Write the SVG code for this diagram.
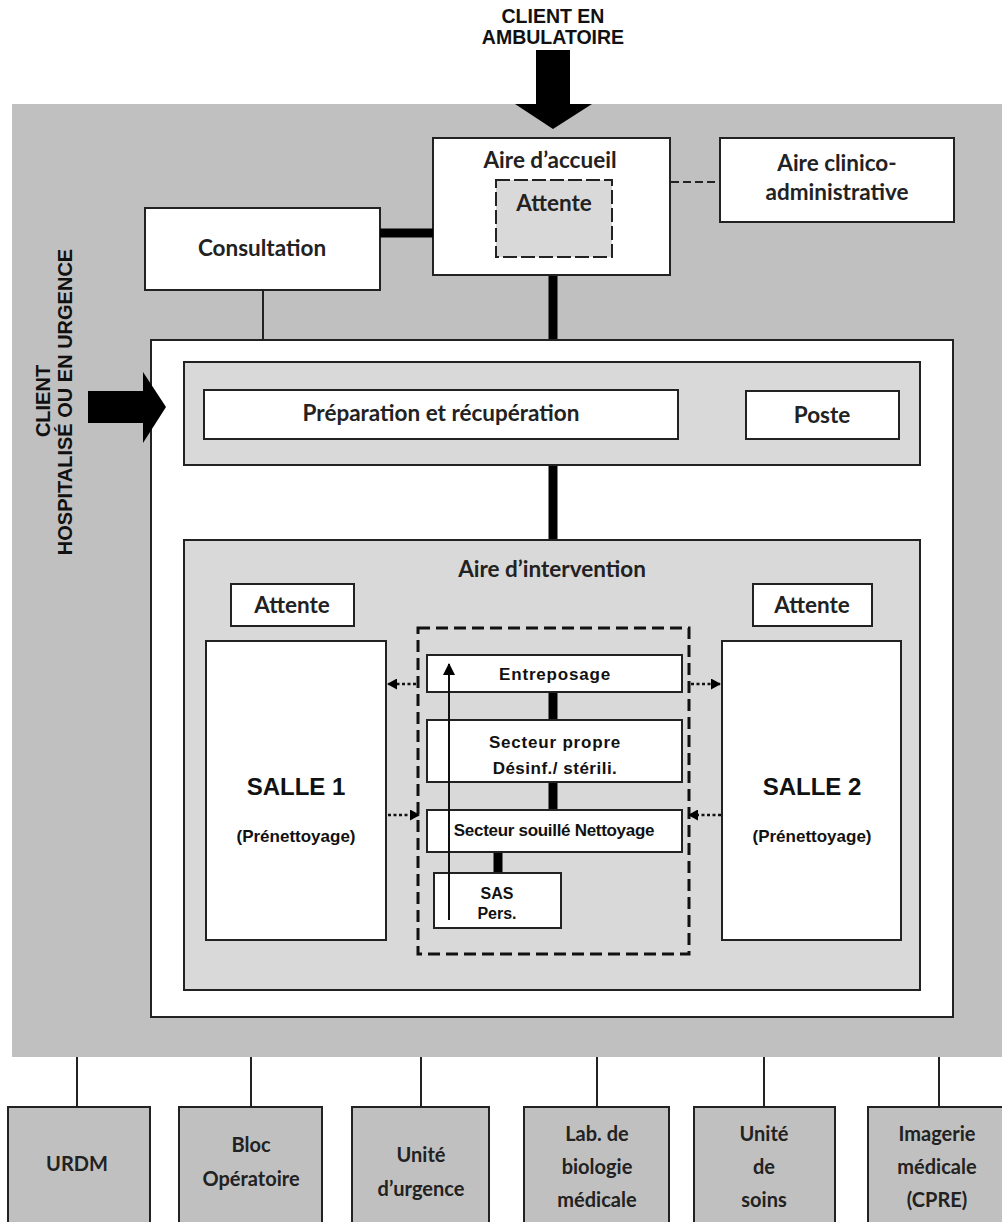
<svg xmlns="http://www.w3.org/2000/svg" width="1002" height="1222" viewBox="0 0 1002 1222">
<style>
.box{fill:#fff;stroke:#222;stroke-width:2}
.gbox{fill:#d9d9d9;stroke:#222;stroke-width:2}
.bbox{fill:#c0c0c0;stroke:#222;stroke-width:2}
.c{font-family:Lato,"Liberation Sans",sans-serif;font-weight:bold;font-size:22.5px;fill:#222;text-anchor:middle}
.cb{font-family:Lato,"Liberation Sans",sans-serif;font-weight:bold;font-size:20px;fill:#222;text-anchor:middle}
.a{font-family:"Liberation Sans",Arial,sans-serif;font-weight:bold;fill:#111;text-anchor:middle}
.thick{stroke:#000;stroke-width:9}
.thin{stroke:#222;stroke-width:2}
.dot{stroke:#111;stroke-width:2.5;stroke-dasharray:3,2.5}
</style>
<defs>
<marker id="ah" markerWidth="10" markerHeight="11" refX="9" refY="5.5" orient="auto" markerUnits="userSpaceOnUse">
<path d="M0,0 L10,5.5 L0,11 Z" fill="#000"/>
</marker>
<marker id="ah2" markerWidth="12" markerHeight="12" refX="11" refY="6" orient="auto" markerUnits="userSpaceOnUse">
<path d="M0,0 L12,6 L0,12 Z" fill="#000"/>
</marker>
</defs>
<rect width="1002" height="1222" fill="#fff"/>
<rect id="bg" x="12" y="104" width="990" height="953" fill="#c0c0c0"/>

<g id="labels">
<text class="a" font-size="19.5" x="553" y="23">CLIENT EN</text>
<text class="a" font-size="19.5" x="553" y="44">AMBULATOIRE</text>
<text class="a" font-size="20" transform="translate(50,401) rotate(-90)">CLIENT</text>
<text class="a" font-size="20" transform="translate(72,402) rotate(-90)">HOSPITALISÉ OU EN URGENCE</text>
</g>

<g id="accueil">
<rect class="box" x="433" y="138" width="237" height="137"/>
<text class="c" x="550" y="168">Aire d’accueil</text>
<rect x="496" y="180" width="116" height="77" fill="#d9d9d9" stroke="#222" stroke-width="2" stroke-dasharray="14,4"/>
<text class="c" x="554" y="211">Attente</text>
</g>
<g id="clinico">
<rect class="box" x="720" y="138" width="234" height="84"/>
<text class="c" x="837" y="171">Aire clinico-</text>
<text class="c" x="837" y="200">administrative</text>
</g>
<g id="consultation">
<rect class="box" x="145" y="208" width="235" height="82"/>
<text class="c" x="262" y="256">Consultation</text>
</g>

<g id="main">
<rect class="box" x="151" y="340" width="802" height="677"/>
</g>
<g id="prep-area">
<rect class="gbox" x="184" y="362" width="736" height="103"/>
</g>
<g id="preparation">
<rect class="box" x="204" y="390" width="474" height="49"/>
<text class="c" x="441" y="421">Préparation et récupération</text>
</g>
<g id="poste">
<rect class="box" x="746" y="391" width="153" height="48"/>
<text class="c" x="822" y="423">Poste</text>
</g>

<g id="intervention">
<rect class="gbox" x="184" y="540" width="736" height="450"/>
<text class="c" x="552" y="577">Aire d’intervention</text>
</g>
<g id="attente1">
<rect class="box" x="231" y="584" width="123" height="42"/>
<text class="c" x="292" y="613">Attente</text>
</g>
<g id="attente2">
<rect class="box" x="753" y="584" width="119" height="42"/>
<text class="c" x="812" y="613">Attente</text>
</g>
<g id="salle1">
<rect class="box" x="206" y="641" width="180" height="299"/>
<text class="a" font-size="24" x="296" y="795">SALLE 1</text>
<text class="a" font-size="17" x="296" y="842">(Prénettoyage)</text>
</g>
<g id="salle2">
<rect class="box" x="722" y="641" width="179" height="299"/>
<text class="a" font-size="24" x="812" y="795">SALLE 2</text>
<text class="a" font-size="17" x="812" y="842">(Prénettoyage)</text>
</g>
<g id="zone-centrale">
<rect x="418" y="628" width="271" height="326" fill="none" stroke="#111" stroke-width="3" stroke-dasharray="12,6"/>
</g>
<g id="entreposage">
<rect class="box" x="427" y="655" width="255" height="37"/>
<text class="a" font-size="17" x="555" y="680" letter-spacing="0.8">Entreposage</text>
</g>
<g id="propre">
<rect class="box" x="427" y="720" width="255" height="62"/>
<text class="a" font-size="17" x="555" y="748" letter-spacing="0.8">Secteur propre</text>
<text class="a" font-size="17" x="555" y="774" letter-spacing="0.5">Désinf./ stérili.</text>
</g>
<g id="souille">
<rect class="box" x="427" y="810" width="255" height="42"/>
<text class="a" font-size="17" x="554" y="836" letter-spacing="-0.3">Secteur souillé Nettoyage</text>
</g>
<g id="sas">
<rect class="box" x="434" y="873" width="127" height="55"/>
<text class="a" font-size="16" x="497" y="899">SAS</text>
<text class="a" font-size="16" x="497" y="919">Pers.</text>
</g>

<g id="urdm">
<rect class="bbox" x="8" y="1107" width="142" height="120"/>
<text class="cb" x="77" y="1171">URDM</text>
</g>
<g id="bloc">
<rect class="bbox" x="179" y="1107" width="143" height="120"/>
<text class="cb" x="251" y="1152">Bloc</text>
<text class="cb" x="251" y="1186">Opératoire</text>
</g>
<g id="urgence">
<rect class="bbox" x="352" y="1107" width="137" height="120"/>
<text class="cb" x="421" y="1162">Unité</text>
<text class="cb" x="421" y="1196">d’urgence</text>
</g>
<g id="lab">
<rect class="bbox" x="524" y="1107" width="145" height="120"/>
<text class="cb" x="597" y="1141">Lab. de</text>
<text class="cb" x="597" y="1174">biologie</text>
<text class="cb" x="597" y="1207">médicale</text>
</g>
<g id="soins">
<rect class="bbox" x="694" y="1107" width="141" height="120"/>
<text class="cb" x="764" y="1141">Unité</text>
<text class="cb" x="764" y="1174">de</text>
<text class="cb" x="764" y="1207">soins</text>
</g>
<g id="imagerie">
<rect class="bbox" x="868" y="1107" width="140" height="120"/>
<text class="cb" x="937" y="1141">Imagerie</text>
<text class="cb" x="937" y="1174">médicale</text>
<text class="cb" x="937" y="1207">(CPRE)</text>
</g>

<g id="connectors">
<path d="M536,50 H570 V104 H592 L553,129 L515,104 H536 Z" fill="#000"/>
<path d="M88,391 H143 V372 L166,407 L143,443 V423 H88 Z" fill="#000"/>
<line class="thick" x1="380" y1="233" x2="433" y2="233"/>
<line class="thin" x1="671" y1="182" x2="719" y2="182" stroke-dasharray="8,4"/>
<line class="thin" x1="263" y1="291" x2="263" y2="339"/>
<line class="thick" x1="553" y1="276" x2="553" y2="339"/>
<line class="thick" x1="553" y1="466" x2="553" y2="539"/>
<line class="thick" x1="553" y1="693" x2="553" y2="719"/>
<line class="thick" x1="553" y1="783" x2="553" y2="809"/>
<line class="thick" x1="498" y1="853" x2="498" y2="872"/>
<line class="dot" x1="416" y1="684" x2="388" y2="684" marker-end="url(#ah)"/>
<line class="dot" x1="691" y1="684" x2="720" y2="684" marker-end="url(#ah)"/>
<line class="dot" x1="388" y1="815" x2="419" y2="815" marker-end="url(#ah)"/>
<line class="dot" x1="721" y1="815" x2="689" y2="815" marker-end="url(#ah)"/>
<line x1="449" y1="920" x2="449" y2="664" stroke="#111" stroke-width="2" marker-end="url(#ah2)"/>
<line class="thin" x1="77" y1="1057" x2="77" y2="1106" stroke-width="3.5" stroke="#111"/>
<line class="thin" x1="251" y1="1057" x2="251" y2="1106" stroke-width="3.5" stroke="#111"/>
<line class="thin" x1="421" y1="1057" x2="421" y2="1106" stroke-width="3.5" stroke="#111"/>
<line class="thin" x1="597" y1="1057" x2="597" y2="1106" stroke-width="3.5" stroke="#111"/>
<line class="thin" x1="764" y1="1057" x2="764" y2="1106" stroke-width="3.5" stroke="#111"/>
<line class="thin" x1="939" y1="1057" x2="939" y2="1106" stroke-width="3.5" stroke="#111"/>
</g>
</svg>
